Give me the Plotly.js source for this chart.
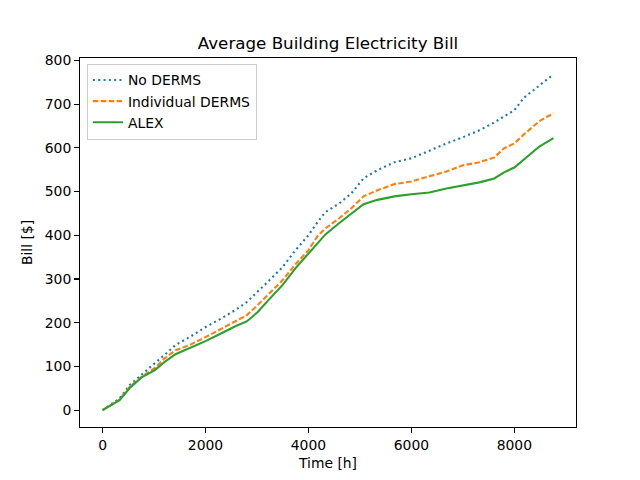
<!DOCTYPE html>
<html>
<head>
<meta charset="utf-8">
<script src="https://cdn.plot.ly/plotly-3.0.1.min.js"></script>
<style>html,body{margin:0;padding:0;background:#fff;}#chart{width:640px;height:480px;}</style>
</head>
<body>
<div id="chart"></div>
<script>
const hours = [0, 330, 524, 757, 1010, 1200, 1417, 1690, 2000, 2310, 2580, 2800, 3010, 3240, 3495, 3750, 4000, 4175, 4330, 4600, 4835, 5070, 5340, 5670, 6000, 6350, 6680, 7000, 7320, 7610, 7800, 8000, 8190, 8485, 8760];
const noDerms = [0, 27, 57, 80, 107, 126, 149, 167, 190, 210, 229, 247, 270, 297, 327, 366, 400, 430, 453, 473, 496, 530, 549, 567, 576, 594, 610, 624, 640, 658, 672, 686, 715, 743, 768];
const individualDerms = [0, 24, 53, 76, 96, 118, 137, 149, 167, 187, 203, 217, 240, 267, 297, 334, 366, 398, 416, 439, 462, 489, 503, 517, 523, 535, 546, 560, 567, 578, 599, 610, 631, 661, 679];
const alex = [0, 23, 50, 75, 91, 110, 128, 142, 158, 176, 192, 203, 224, 254, 286, 325, 359, 381, 402, 428, 450, 471, 481, 489, 494, 498, 507, 514, 521, 530, 544, 555, 574, 603, 622];
const seriesNames = ["No DERMS", "Individual DERMS", "ALEX"];

const traces = [
  {x: hours, y: noDerms, name: seriesNames[0], mode: "lines", line: {color: "#1f77b4", width: 2.1, dash: "2px,3.3px"}},
  {x: hours, y: individualDerms, name: seriesNames[1], mode: "lines", line: {color: "#ff7f0e", width: 2.1, dash: "5.5px,2.4px"}},
  {x: hours, y: alex, name: seriesNames[2], mode: "lines", line: {color: "#2ca02c", width: 2.1}}
];

const axisCommon = {
  showline: true, mirror: true, linecolor: "#000", linewidth: 1.1,
  ticks: "outside", ticklen: 4.9, tickwidth: 1.1, tickcolor: "#000",
  showgrid: false, zeroline: false,
  tickfont: {family: "DejaVu Sans", size: 13.9, color: "#000"}
};

const layout = {
  width: 640, height: 480,
  margin: {l: 80, r: 64, t: 57.6, b: 52.8},
  paper_bgcolor: "#fff", plot_bgcolor: "#fff",
  font: {family: "DejaVu Sans", color: "#000"},
  title: {text: "Average Building Electricity Bill", font: {family: "DejaVu Sans", size: 16.7, color: "#000"}, x: 0.5125, xanchor: "center", y: 0.91, yanchor: "middle"},
  xaxis: Object.assign({}, axisCommon, {range: [-438, 9198], tickvals: [0, 2000, 4000, 6000, 8000],
    title: {text: "Time [h]", font: {family: "DejaVu Sans", size: 13.9, color: "#000"}, standoff: 6}}),
  yaxis: Object.assign({}, axisCommon, {range: [-38.4, 805.4], tickvals: [0, 100, 200, 300, 400, 500, 600, 700, 800],
    title: {text: "Bill [$]", font: {family: "DejaVu Sans", size: 13.9, color: "#000"}, standoff: 8}}),
  showlegend: true,
  legend: {x: 0.014, y: 0.985, xanchor: "left", yanchor: "top", bgcolor: "rgba(255,255,255,0.8)", bordercolor: "#cccccc", borderwidth: 1,
    font: {family: "DejaVu Sans", size: 13.9, color: "#000"}, tracegroupgap: 0, itemwidth: 30}
};

Plotly.newPlot("chart", traces, layout, {displayModeBar: false, staticPlot: true});
</script>
</body>
</html>
